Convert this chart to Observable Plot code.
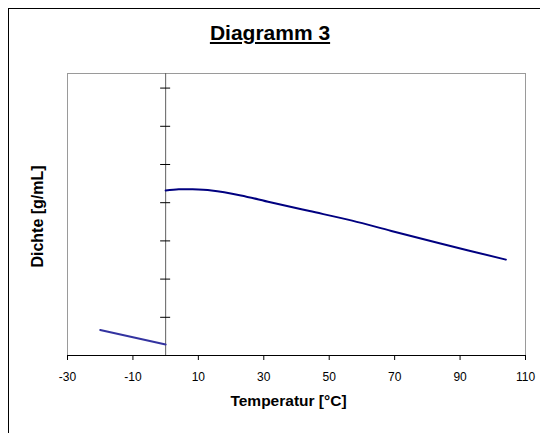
<!DOCTYPE html>
<html><head><meta charset="utf-8">
<script src="https://cdn.jsdelivr.net/npm/d3@7"></script>
<script src="https://cdn.jsdelivr.net/npm/@observablehq/plot@0.6"></script>
<style>
body{margin:0;background:#fff;}
#wrap{position:relative;width:540px;height:433px;overflow:hidden;font-family:Arial,"Liberation Sans",sans-serif;}
#border{position:absolute;left:8px;top:8px;width:600px;height:600px;border-left:1px solid #000;border-top:1px solid #000;}
#title{position:absolute;top:22px;left:0;width:540px;text-align:center;font-weight:bold;font-size:21px;line-height:21px;text-decoration:underline;color:#000;}
#chart{position:absolute;left:0;top:0;}
</style></head>
<body><div id="wrap"><div id="border"></div><div id="title">Diagramm 3</div><div id="chart"></div></div>
<script>
// Data (y axis has no labels, values in an arbitrary density scale)
const tempIce = [-20, 0];
const densIce = [0.9067, 0.9029];
const tempWater = [0, 4, 8, 14, 23, 32, 44, 57, 69, 84, 104];
const densWater = [0.9432, 0.9435, 0.9435, 0.9432, 0.9419, 0.9401, 0.9378, 0.9353, 0.9326, 0.9293, 0.9251];
const xTicks = [-30, -10, 10, 30, 50, 70, 90, 110];
const yTicks = [0.91, 0.92, 0.93, 0.94, 0.95, 0.96, 0.97];
const xDomain = [-30, 110];
const yDomain = [0.90, 0.97382];

const ice = tempIce.map((t, i) => ({t, d: densIce[i]}));
const water = tempWater.map((t, i) => ({t, d: densWater[i]}));

const W = 540, H = 433, mL = 67, mR = 15, mT = 73, mB = 78;
const xs = Plot.scale({x: {domain: xDomain, range: [mL, W - mR]}});
const font = "Arial, 'Liberation Sans', sans-serif";

const plot = Plot.plot({
  width: W, height: H,
  marginLeft: mL, marginRight: mR, marginTop: mT, marginBottom: mB,
  style: {fontFamily: font, background: "transparent", overflow: "visible", color: "#000"},
  x: {domain: xDomain},
  y: {domain: yDomain},
  marks: [
    Plot.frame({stroke: "#9a9a9a"}),
    Plot.ruleX([0], {stroke: "#606060"}),
    Plot.ruleY([yDomain[0]], {stroke: "#000"}),
    Plot.axisX({ticks: xTicks, tickSize: 5, tickPadding: 12, fontSize: 12, label: null, tickFormat: d => String(d), stroke: "#000", fill: "#000"}),
    Plot.axisY({ticks: yTicks, anchor: "left", tickSize: 10, dx: xs.apply(0) - mL + 5, tickFormat: () => "", label: null, stroke: "#000"}),
    Plot.line(ice, {x: "t", y: "d", stroke: "#3333a0", strokeWidth: 2}),
    Plot.line(water, {x: "t", y: "d", stroke: "#000080", strokeWidth: 2, curve: "catmull-rom"}),
    Plot.text(["Dichte [g/mL]"], {frameAnchor: "left", textAnchor: "middle", dx: -30, dy: 2, rotate: -90, fontWeight: "bold", fontSize: 16, fill: "#000"}),
    Plot.text(["Temperatur [°C]"], {frameAnchor: "bottom", textAnchor: "middle", dx: -8, dy: 50, fontWeight: "bold", fontSize: 15.5, fill: "#000"})
  ]
});
document.getElementById("chart").appendChild(plot);
</script>
</body></html>
